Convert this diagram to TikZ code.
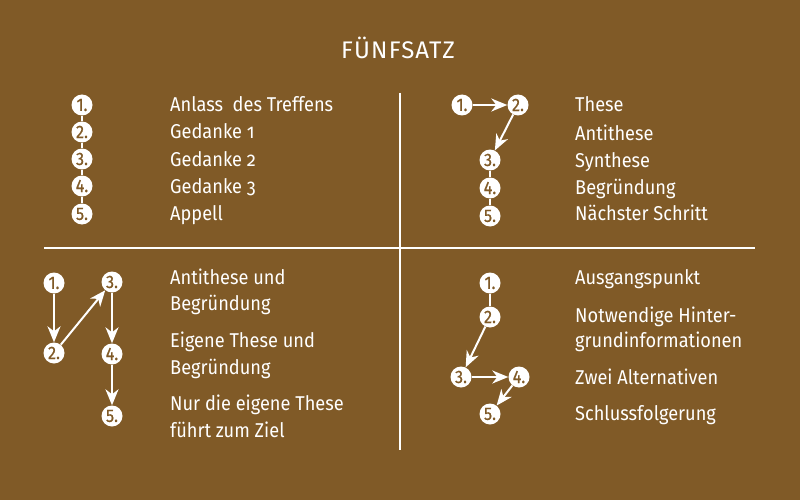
\documentclass[tikz,border=0pt]{standalone}
\usepackage{fontspec}
\setmainfont{Fira Sans}[Numbers=OldStyle, FakeStretch=0.91]
\newfontfamily\titlefont{Fira Sans}[LetterSpace=5]
\newfontfamily\numfont{Fira Sans}[Numbers=Lining, FakeStretch=0.9, FakeBold=0.6]
\usetikzlibrary{arrows.meta}
\definecolor{bg}{HTML}{805A27}
\begin{document}
\begin{tikzpicture}[x=1pt,y=-1pt,
  num/.style={circle, fill=white, minimum size=21pt, inner sep=0pt, text=bg,
    font=\numfont\fontsize{18}{18}\selectfont},
  lbl/.style={anchor=base west, text=white, font=\fontsize{20}{20}\selectfont, inner sep=0pt},
  title/.style={text=white, font=\titlefont\fontsize{24}{24}\selectfont, inner sep=0pt},
  link/.style={draw=white, line width=1.5pt},
  arr/.style={draw=white, line width=2pt, -{Stealth[length=16pt,width=13pt,inset=5pt]}},
  divider/.style={draw=white, line width=2pt}
]
\fill[bg] (0,0) rectangle (800,500);
\useasboundingbox (0,0) rectangle (800,500);

\node[title] (t) at (398,48) {FÜNFSATZ};

\coordinate (vt) at (400,93);
\coordinate (vb) at (400,450);
\coordinate (hl) at (44,248);
\coordinate (hr) at (755,248);
\draw[divider] (vt) -- (vb);
\draw[divider] (hl) -- (hr);

% Quadrant 1
\node[num] (a1) at (82,105) {1.};
\node[num] (a2) at (82,132) {2.};
\node[num] (a3) at (82,159) {3.};
\node[num] (a4) at (82,186) {4.};
\node[num] (a5) at (82,214) {5.};
\draw[link] (a1) -- (a2);
\draw[link] (a2) -- (a3);
\draw[link] (a3) -- (a4);
\draw[link] (a4) -- (a5);
\node[lbl] (at1) at (170,112) {Anlass\ \ des Treffens};
\node[lbl] (at2) at (170,139) {Gedanke 1};
\node[lbl] (at3) at (170,166) {Gedanke 2};
\node[lbl] (at4) at (170,193) {Gedanke 3};
\node[lbl] (at5) at (170,220) {Appell};

% Quadrant 2
\node[num] (b1) at (462,105) {1.};
\node[num] (b2) at (518,105) {2.};
\node[num] (b3) at (490,160) {3.};
\node[num] (b4) at (490,188) {4.};
\node[num] (b5) at (490,216) {5.};
\draw[arr] (b1) -- (b2);
\draw[arr] (b2) -- (b3);
\draw[link] (b3) -- (b4);
\draw[link] (b4) -- (b5);
\node[lbl] (bt1) at (575,112) {These};
\node[lbl] (bt2) at (575,140) {Antithese};
\node[lbl] (bt3) at (575,167) {Synthese};
\node[lbl] (bt4) at (575,194) {Begründung};
\node[lbl] (bt5) at (575,220) {Nächster Schritt};

% Quadrant 3
\node[num] (c1) at (54,283) {1.};
\node[num] (c2) at (54,353) {2.};
\node[num] (c3) at (112,282) {3.};
\node[num] (c4) at (112,354) {4.};
\node[num] (c5) at (112,416) {5.};
\draw[arr] (c1) -- (c2);
\draw[arr] (c2) -- (c3);
\draw[arr] (c3) -- (c4);
\draw[arr] (c4) -- (c5);
\node[lbl] (ct1) at (170,284) {Antithese und};
\node[lbl] (ct2) at (170,310) {Begründung};
\node[lbl] (ct3) at (170,347) {Eigene These und};
\node[lbl] (ct4) at (170,374) {Begründung};
\node[lbl] (ct5) at (170,410) {Nur die eigene These};
\node[lbl] (ct6) at (170,437) {führt zum Ziel};

% Quadrant 4
\node[num] (d1) at (490,283) {1.};
\node[num] (d2) at (490,317) {2.};
\node[num] (d3) at (461,377) {3.};
\node[num] (d4) at (519,377) {4.};
\node[num] (d5) at (490,414) {5.};
\draw[link] (d1) -- (d2);
\draw[arr] (d2) -- (d3);
\draw[arr] (d3) -- (d4);
\draw[arr] (d4) -- (d5);
\node[lbl] (dt1) at (575,284) {Ausgangspunkt};
\node[lbl] (dt2) at (575,322) {Notwendige Hinter-};
\node[lbl] (dt3) at (575,347) {grundinformationen};
\node[lbl] (dt4) at (575,384) {Zwei Alternativen};
\node[lbl] (dt5) at (575,420) {Schlussfolgerung};
\end{tikzpicture}
\end{document}
